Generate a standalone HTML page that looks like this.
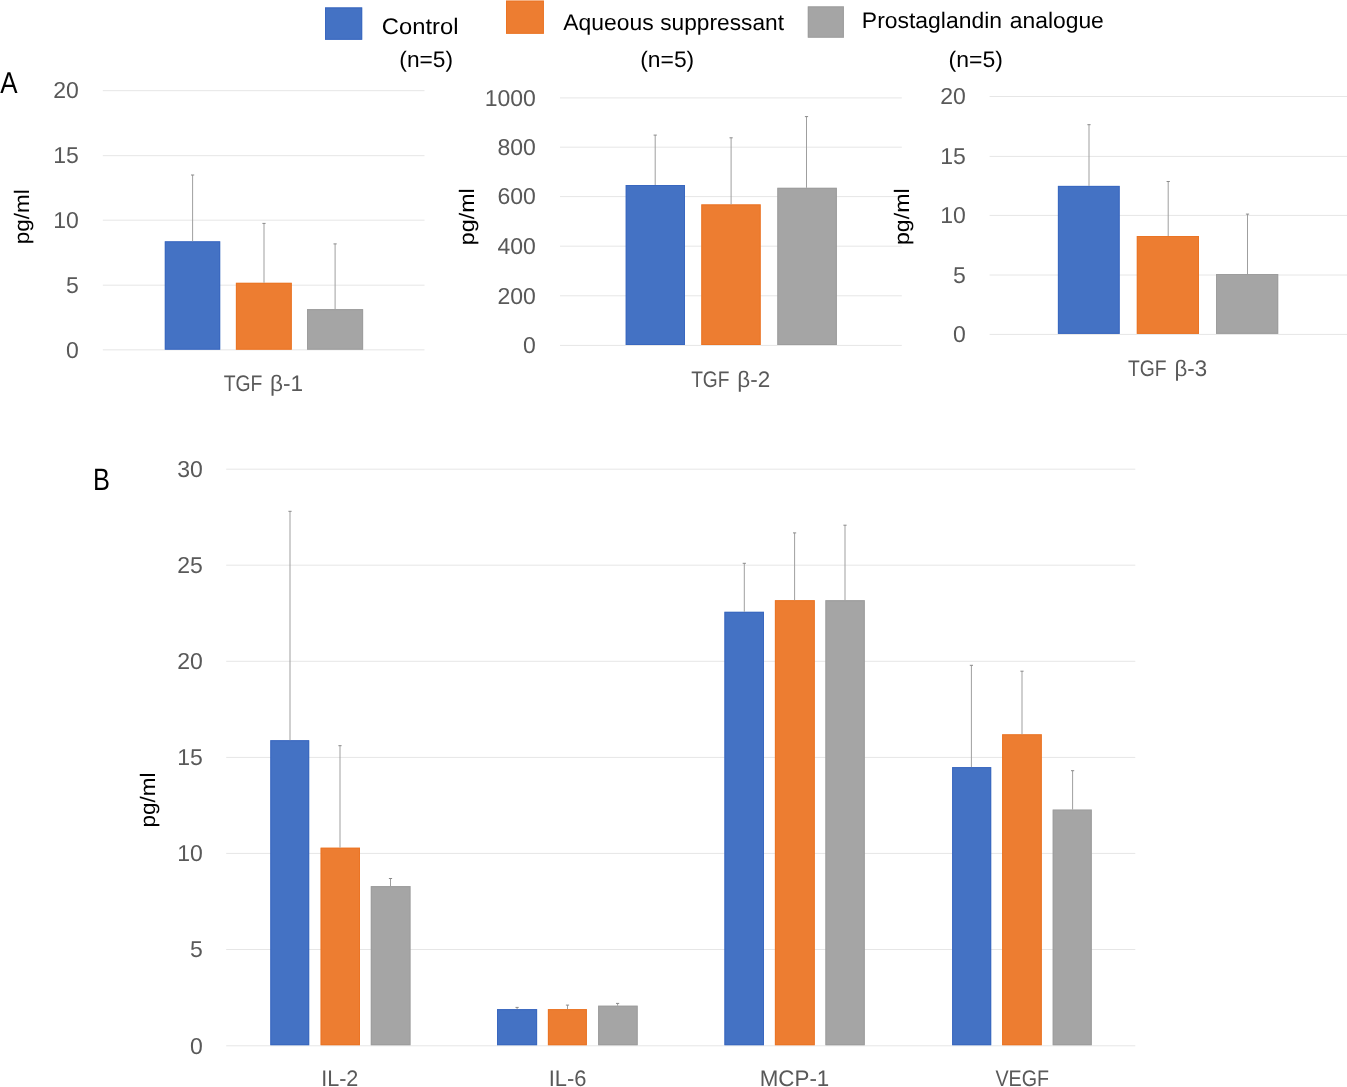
<!DOCTYPE html>
<html><head><meta charset="utf-8"><style>
html,body{margin:0;padding:0;background:#fff;}
svg{display:block;will-change:transform;text-rendering:geometricPrecision;font-family:"Liberation Sans",sans-serif;}
</style></head><body>
<svg width="1347" height="1087" viewBox="0 0 1347 1087">
<rect width="1347" height="1087" fill="#fff"/>
<rect x="325.00" y="7.40" width="37.20" height="32.40" fill="#4472C4"/>
<rect x="325.50" y="7.90" width="36.20" height="31.40" fill="none" stroke="#3563BE" stroke-width="1" stroke-opacity="0.7"/>
<rect x="506.00" y="0.60" width="37.90" height="33.20" fill="#ED7D31"/>
<rect x="506.50" y="1.10" width="36.90" height="32.20" fill="none" stroke="#EA7020" stroke-width="1" stroke-opacity="0.7"/>
<rect x="807.80" y="6.40" width="36.10" height="31.30" fill="#A5A5A5"/>
<rect x="808.30" y="6.90" width="35.10" height="30.30" fill="none" stroke="#9A9A9A" stroke-width="1" stroke-opacity="0.7"/>
<line x1="102.80" x2="424.50" y1="90.70" y2="90.70" stroke="#E6E6E6" stroke-width="1"/>
<line x1="102.80" x2="424.50" y1="155.70" y2="155.70" stroke="#E6E6E6" stroke-width="1"/>
<line x1="102.80" x2="424.50" y1="220.20" y2="220.20" stroke="#E6E6E6" stroke-width="1"/>
<line x1="102.80" x2="424.50" y1="285.20" y2="285.20" stroke="#E6E6E6" stroke-width="1"/>
<line x1="102.80" x2="424.50" y1="349.85" y2="349.85" stroke="#E6E6E6" stroke-width="1"/>
<rect x="164.80" y="241.30" width="55.40" height="108.40" fill="#4472C4"/>
<rect x="165.30" y="241.80" width="54.40" height="107.40" fill="none" stroke="#3563BE" stroke-width="1" stroke-opacity="0.7"/>
<line x1="192.60" x2="192.60" y1="175.00" y2="241.30" stroke="#9F9F9F" stroke-width="1"/>
<line x1="191.00" x2="194.20" y1="175.00" y2="175.00" stroke="#8a8a8a" stroke-width="1"/>
<rect x="235.90" y="282.80" width="55.90" height="66.90" fill="#ED7D31"/>
<rect x="236.40" y="283.30" width="54.90" height="65.90" fill="none" stroke="#EA7020" stroke-width="1" stroke-opacity="0.7"/>
<line x1="264.00" x2="264.00" y1="223.40" y2="282.80" stroke="#9F9F9F" stroke-width="1"/>
<line x1="262.40" x2="265.60" y1="223.40" y2="223.40" stroke="#8a8a8a" stroke-width="1"/>
<rect x="307.00" y="309.10" width="56.10" height="40.60" fill="#A5A5A5"/>
<rect x="307.50" y="309.60" width="55.10" height="39.60" fill="none" stroke="#9A9A9A" stroke-width="1" stroke-opacity="0.7"/>
<line x1="335.10" x2="335.10" y1="243.90" y2="309.10" stroke="#9F9F9F" stroke-width="1"/>
<line x1="333.50" x2="336.70" y1="243.90" y2="243.90" stroke="#8a8a8a" stroke-width="1"/>
<line x1="560.00" x2="901.80" y1="97.90" y2="97.90" stroke="#E6E6E6" stroke-width="1"/>
<line x1="560.00" x2="901.80" y1="147.20" y2="147.20" stroke="#E6E6E6" stroke-width="1"/>
<line x1="560.00" x2="901.80" y1="196.60" y2="196.60" stroke="#E6E6E6" stroke-width="1"/>
<line x1="560.00" x2="901.80" y1="246.20" y2="246.20" stroke="#E6E6E6" stroke-width="1"/>
<line x1="560.00" x2="901.80" y1="295.80" y2="295.80" stroke="#E6E6E6" stroke-width="1"/>
<line x1="560.00" x2="901.80" y1="345.40" y2="345.40" stroke="#E6E6E6" stroke-width="1"/>
<rect x="625.70" y="185.00" width="59.30" height="160.00" fill="#4472C4"/>
<rect x="626.20" y="185.50" width="58.30" height="159.00" fill="none" stroke="#3563BE" stroke-width="1" stroke-opacity="0.7"/>
<line x1="655.20" x2="655.20" y1="135.10" y2="185.00" stroke="#9F9F9F" stroke-width="1"/>
<line x1="653.60" x2="656.80" y1="135.10" y2="135.10" stroke="#8a8a8a" stroke-width="1"/>
<rect x="701.30" y="204.40" width="59.40" height="140.60" fill="#ED7D31"/>
<rect x="701.80" y="204.90" width="58.40" height="139.60" fill="none" stroke="#EA7020" stroke-width="1" stroke-opacity="0.7"/>
<line x1="731.10" x2="731.10" y1="137.80" y2="204.40" stroke="#9F9F9F" stroke-width="1"/>
<line x1="729.50" x2="732.70" y1="137.80" y2="137.80" stroke="#8a8a8a" stroke-width="1"/>
<rect x="777.30" y="187.80" width="59.60" height="157.20" fill="#A5A5A5"/>
<rect x="777.80" y="188.30" width="58.60" height="156.20" fill="none" stroke="#9A9A9A" stroke-width="1" stroke-opacity="0.7"/>
<line x1="806.50" x2="806.50" y1="116.60" y2="187.80" stroke="#9F9F9F" stroke-width="1"/>
<line x1="804.90" x2="808.10" y1="116.60" y2="116.60" stroke="#8a8a8a" stroke-width="1"/>
<line x1="989.60" x2="1347.00" y1="96.50" y2="96.50" stroke="#E6E6E6" stroke-width="1"/>
<line x1="989.60" x2="1347.00" y1="156.40" y2="156.40" stroke="#E6E6E6" stroke-width="1"/>
<line x1="989.60" x2="1347.00" y1="215.40" y2="215.40" stroke="#E6E6E6" stroke-width="1"/>
<line x1="989.60" x2="1347.00" y1="275.00" y2="275.00" stroke="#E6E6E6" stroke-width="1"/>
<line x1="989.60" x2="1347.00" y1="334.40" y2="334.40" stroke="#E6E6E6" stroke-width="1"/>
<rect x="1057.90" y="185.90" width="61.80" height="148.00" fill="#4472C4"/>
<rect x="1058.40" y="186.40" width="60.80" height="147.00" fill="none" stroke="#3563BE" stroke-width="1" stroke-opacity="0.7"/>
<line x1="1089.00" x2="1089.00" y1="124.70" y2="185.90" stroke="#9F9F9F" stroke-width="1"/>
<line x1="1087.40" x2="1090.60" y1="124.70" y2="124.70" stroke="#8a8a8a" stroke-width="1"/>
<rect x="1136.80" y="236.00" width="62.20" height="97.90" fill="#ED7D31"/>
<rect x="1137.30" y="236.50" width="61.20" height="96.90" fill="none" stroke="#EA7020" stroke-width="1" stroke-opacity="0.7"/>
<line x1="1168.20" x2="1168.20" y1="181.50" y2="236.00" stroke="#9F9F9F" stroke-width="1"/>
<line x1="1166.60" x2="1169.80" y1="181.50" y2="181.50" stroke="#8a8a8a" stroke-width="1"/>
<rect x="1216.00" y="274.00" width="62.20" height="59.90" fill="#A5A5A5"/>
<rect x="1216.50" y="274.50" width="61.20" height="58.90" fill="none" stroke="#9A9A9A" stroke-width="1" stroke-opacity="0.7"/>
<line x1="1247.50" x2="1247.50" y1="214.10" y2="274.00" stroke="#9F9F9F" stroke-width="1"/>
<line x1="1245.90" x2="1249.10" y1="214.10" y2="214.10" stroke="#8a8a8a" stroke-width="1"/>
<line x1="226.20" x2="1135.30" y1="469.20" y2="469.20" stroke="#E6E6E6" stroke-width="1"/>
<line x1="226.20" x2="1135.30" y1="565.20" y2="565.20" stroke="#E6E6E6" stroke-width="1"/>
<line x1="226.20" x2="1135.30" y1="661.30" y2="661.30" stroke="#E6E6E6" stroke-width="1"/>
<line x1="226.20" x2="1135.30" y1="757.40" y2="757.40" stroke="#E6E6E6" stroke-width="1"/>
<line x1="226.20" x2="1135.30" y1="853.40" y2="853.40" stroke="#E6E6E6" stroke-width="1"/>
<line x1="226.20" x2="1135.30" y1="949.50" y2="949.50" stroke="#E6E6E6" stroke-width="1"/>
<line x1="226.20" x2="1135.30" y1="1045.80" y2="1045.80" stroke="#E6E6E6" stroke-width="1"/>
<rect x="270.30" y="740.20" width="38.90" height="305.00" fill="#4472C4"/>
<rect x="270.80" y="740.70" width="37.90" height="304.00" fill="none" stroke="#3563BE" stroke-width="1" stroke-opacity="0.7"/>
<line x1="290.00" x2="290.00" y1="511.30" y2="740.20" stroke="#9F9F9F" stroke-width="1"/>
<line x1="288.40" x2="291.60" y1="511.30" y2="511.30" stroke="#8a8a8a" stroke-width="1"/>
<rect x="320.60" y="847.70" width="39.40" height="197.50" fill="#ED7D31"/>
<rect x="321.10" y="848.20" width="38.40" height="196.50" fill="none" stroke="#EA7020" stroke-width="1" stroke-opacity="0.7"/>
<line x1="340.00" x2="340.00" y1="745.70" y2="847.70" stroke="#9F9F9F" stroke-width="1"/>
<line x1="338.40" x2="341.60" y1="745.70" y2="745.70" stroke="#8a8a8a" stroke-width="1"/>
<rect x="370.80" y="886.10" width="39.70" height="159.10" fill="#A5A5A5"/>
<rect x="371.30" y="886.60" width="38.70" height="158.10" fill="none" stroke="#9A9A9A" stroke-width="1" stroke-opacity="0.7"/>
<line x1="390.50" x2="390.50" y1="878.50" y2="886.10" stroke="#9F9F9F" stroke-width="1"/>
<line x1="388.90" x2="392.10" y1="878.50" y2="878.50" stroke="#8a8a8a" stroke-width="1"/>
<rect x="497.00" y="1009.10" width="40.10" height="36.10" fill="#4472C4"/>
<rect x="497.50" y="1009.60" width="39.10" height="35.10" fill="none" stroke="#3563BE" stroke-width="1" stroke-opacity="0.7"/>
<line x1="517.10" x2="517.10" y1="1007.40" y2="1009.10" stroke="#9F9F9F" stroke-width="1"/>
<line x1="515.50" x2="518.70" y1="1007.40" y2="1007.40" stroke="#8a8a8a" stroke-width="1"/>
<rect x="547.90" y="1009.10" width="39.00" height="36.10" fill="#ED7D31"/>
<rect x="548.40" y="1009.60" width="38.00" height="35.10" fill="none" stroke="#EA7020" stroke-width="1" stroke-opacity="0.7"/>
<line x1="567.50" x2="567.50" y1="1005.10" y2="1009.10" stroke="#9F9F9F" stroke-width="1"/>
<line x1="565.90" x2="569.10" y1="1005.10" y2="1005.10" stroke="#8a8a8a" stroke-width="1"/>
<rect x="598.10" y="1005.70" width="39.60" height="39.50" fill="#A5A5A5"/>
<rect x="598.60" y="1006.20" width="38.60" height="38.50" fill="none" stroke="#9A9A9A" stroke-width="1" stroke-opacity="0.7"/>
<line x1="617.60" x2="617.60" y1="1003.40" y2="1005.70" stroke="#9F9F9F" stroke-width="1"/>
<line x1="616.00" x2="619.20" y1="1003.40" y2="1003.40" stroke="#8a8a8a" stroke-width="1"/>
<rect x="724.40" y="611.80" width="39.60" height="433.40" fill="#4472C4"/>
<rect x="724.90" y="612.30" width="38.60" height="432.40" fill="none" stroke="#3563BE" stroke-width="1" stroke-opacity="0.7"/>
<line x1="744.30" x2="744.30" y1="563.30" y2="611.80" stroke="#9F9F9F" stroke-width="1"/>
<line x1="742.70" x2="745.90" y1="563.30" y2="563.30" stroke="#8a8a8a" stroke-width="1"/>
<rect x="774.90" y="600.20" width="39.90" height="445.00" fill="#ED7D31"/>
<rect x="775.40" y="600.70" width="38.90" height="444.00" fill="none" stroke="#EA7020" stroke-width="1" stroke-opacity="0.7"/>
<line x1="794.60" x2="794.60" y1="532.90" y2="600.20" stroke="#9F9F9F" stroke-width="1"/>
<line x1="793.00" x2="796.20" y1="532.90" y2="532.90" stroke="#8a8a8a" stroke-width="1"/>
<rect x="825.40" y="600.20" width="39.40" height="445.00" fill="#A5A5A5"/>
<rect x="825.90" y="600.70" width="38.40" height="444.00" fill="none" stroke="#9A9A9A" stroke-width="1" stroke-opacity="0.7"/>
<line x1="845.00" x2="845.00" y1="525.20" y2="600.20" stroke="#9F9F9F" stroke-width="1"/>
<line x1="843.40" x2="846.60" y1="525.20" y2="525.20" stroke="#8a8a8a" stroke-width="1"/>
<rect x="952.10" y="767.10" width="39.10" height="278.10" fill="#4472C4"/>
<rect x="952.60" y="767.60" width="38.10" height="277.10" fill="none" stroke="#3563BE" stroke-width="1" stroke-opacity="0.7"/>
<line x1="971.40" x2="971.40" y1="665.30" y2="767.10" stroke="#9F9F9F" stroke-width="1"/>
<line x1="969.80" x2="973.00" y1="665.30" y2="665.30" stroke="#8a8a8a" stroke-width="1"/>
<rect x="1002.10" y="734.30" width="39.70" height="310.90" fill="#ED7D31"/>
<rect x="1002.60" y="734.80" width="38.70" height="309.90" fill="none" stroke="#EA7020" stroke-width="1" stroke-opacity="0.7"/>
<line x1="1022.00" x2="1022.00" y1="671.20" y2="734.30" stroke="#9F9F9F" stroke-width="1"/>
<line x1="1020.40" x2="1023.60" y1="671.20" y2="671.20" stroke="#8a8a8a" stroke-width="1"/>
<rect x="1052.70" y="809.60" width="39.10" height="235.60" fill="#A5A5A5"/>
<rect x="1053.20" y="810.10" width="38.10" height="234.60" fill="none" stroke="#9A9A9A" stroke-width="1" stroke-opacity="0.7"/>
<line x1="1072.60" x2="1072.60" y1="770.70" y2="809.60" stroke="#9F9F9F" stroke-width="1"/>
<line x1="1071.00" x2="1074.20" y1="770.70" y2="770.70" stroke="#8a8a8a" stroke-width="1"/>
<text x="381.81" y="34.30" font-size="22.5" fill="#000000" textLength="76.67" lengthAdjust="spacingAndGlyphs">Control</text>
<text x="399.34" y="67.40" font-size="22.5" fill="#000000" textLength="53.67" lengthAdjust="spacingAndGlyphs">(n=5)</text>
<text x="563.30" y="30.20" font-size="22.5" fill="#000000" textLength="90.29" lengthAdjust="spacingAndGlyphs">Aqueous</text>
<text x="660.25" y="30.20" font-size="22.5" fill="#000000" textLength="123.70" lengthAdjust="spacingAndGlyphs">suppressant</text>
<text x="640.23" y="67.40" font-size="22.5" fill="#000000" textLength="53.98" lengthAdjust="spacingAndGlyphs">(n=5)</text>
<text x="861.87" y="28.00" font-size="22.5" fill="#000000" textLength="140.12" lengthAdjust="spacingAndGlyphs">Prostaglandin</text>
<text x="1009.79" y="28.00" font-size="22.5" fill="#000000" textLength="94.04" lengthAdjust="spacingAndGlyphs">analogue</text>
<text x="948.62" y="67.40" font-size="22.5" fill="#000000" textLength="54.30" lengthAdjust="spacingAndGlyphs">(n=5)</text>
<text x="0.30" y="92.60" font-size="30" fill="#000000" textLength="17.32" lengthAdjust="spacingAndGlyphs">A</text>
<text x="92.97" y="489.60" font-size="31" fill="#000000" textLength="16.92" lengthAdjust="spacingAndGlyphs">B</text>
<text x="53.25" y="98.40" font-size="23" fill="#595959">20</text>
<text x="53.25" y="163.40" font-size="23" fill="#595959">15</text>
<text x="53.25" y="227.90" font-size="23" fill="#595959">10</text>
<text x="66.04" y="292.90" font-size="23" fill="#595959">5</text>
<text x="66.04" y="357.55" font-size="23" fill="#595959">0</text>
<text x="223.66" y="390.90" font-size="22.5" fill="#595959" textLength="38.73" lengthAdjust="spacingAndGlyphs">TGF</text>
<text x="269.94" y="390.90" font-size="22.5" fill="#595959" textLength="33.10" lengthAdjust="spacingAndGlyphs">β-1</text>
<text transform="translate(29.10,244.35) rotate(-90)" x="0" y="0" font-size="21" fill="#000000" textLength="55.05" lengthAdjust="spacingAndGlyphs">pg/ml</text>
<text x="484.67" y="105.60" font-size="23" fill="#595959">1000</text>
<text x="497.46" y="154.90" font-size="23" fill="#595959">800</text>
<text x="497.46" y="204.30" font-size="23" fill="#595959">600</text>
<text x="497.46" y="253.90" font-size="23" fill="#595959">400</text>
<text x="497.46" y="303.50" font-size="23" fill="#595959">200</text>
<text x="523.04" y="353.10" font-size="23" fill="#595959">0</text>
<text x="691.17" y="386.70" font-size="22.5" fill="#595959" textLength="38.32" lengthAdjust="spacingAndGlyphs">TGF</text>
<text x="737.25" y="386.70" font-size="22.5" fill="#595959" textLength="32.88" lengthAdjust="spacingAndGlyphs">β-2</text>
<text transform="translate(474.10,245.20) rotate(-90)" x="0" y="0" font-size="21" fill="#000000" textLength="56.94" lengthAdjust="spacingAndGlyphs">pg/ml</text>
<text x="940.25" y="104.20" font-size="23" fill="#595959">20</text>
<text x="940.25" y="164.10" font-size="23" fill="#595959">15</text>
<text x="940.25" y="223.10" font-size="23" fill="#595959">10</text>
<text x="953.04" y="282.70" font-size="23" fill="#595959">5</text>
<text x="953.04" y="342.10" font-size="23" fill="#595959">0</text>
<text x="1127.91" y="375.50" font-size="22.5" fill="#595959" textLength="38.58" lengthAdjust="spacingAndGlyphs">TGF</text>
<text x="1174.46" y="375.50" font-size="22.5" fill="#595959" textLength="32.64" lengthAdjust="spacingAndGlyphs">β-3</text>
<text transform="translate(909.20,244.99) rotate(-90)" x="0" y="0" font-size="21" fill="#000000" textLength="56.52" lengthAdjust="spacingAndGlyphs">pg/ml</text>
<text x="177.25" y="476.90" font-size="23" fill="#595959">30</text>
<text x="177.25" y="572.90" font-size="23" fill="#595959">25</text>
<text x="177.25" y="669.00" font-size="23" fill="#595959">20</text>
<text x="177.25" y="765.10" font-size="23" fill="#595959">15</text>
<text x="177.25" y="861.10" font-size="23" fill="#595959">10</text>
<text x="190.04" y="957.20" font-size="23" fill="#595959">5</text>
<text x="190.04" y="1053.50" font-size="23" fill="#595959">0</text>
<text x="321.15" y="1086.40" font-size="22.5" fill="#595959" textLength="37.24" lengthAdjust="spacingAndGlyphs">IL-2</text>
<text x="548.63" y="1086.40" font-size="22.5" fill="#595959" textLength="37.76" lengthAdjust="spacingAndGlyphs">IL-6</text>
<text x="759.71" y="1086.40" font-size="22.5" fill="#595959" textLength="69.62" lengthAdjust="spacingAndGlyphs">MCP-1</text>
<text x="995.40" y="1086.40" font-size="22.5" fill="#595959" textLength="53.61" lengthAdjust="spacingAndGlyphs">VEGF</text>
<text transform="translate(155.30,827.55) rotate(-90)" x="0" y="0" font-size="21" fill="#000000" textLength="55.16" lengthAdjust="spacingAndGlyphs">pg/ml</text>
</svg>
</body></html>
